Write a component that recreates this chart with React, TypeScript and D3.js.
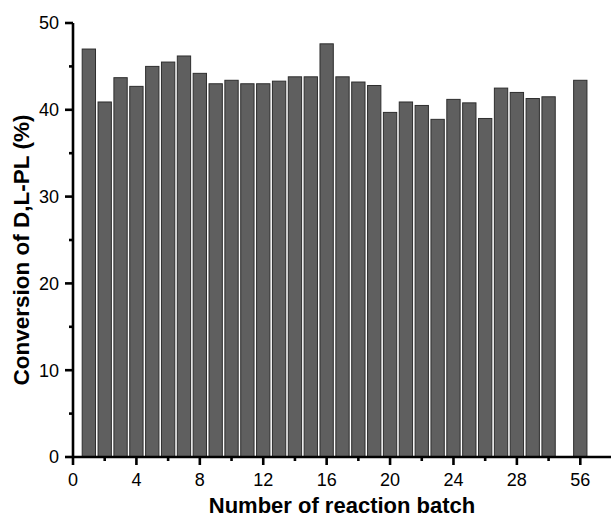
import * as d3 from 'd3';
import React from 'react';

// batch numbers (the last one sits after a break in the axis)
const batches = [1, 2, 3, 4, 5, 6, 7, 8, 9, 10, 11, 12, 13, 14, 15, 16, 17, 18, 19, 20, 21, 22, 23, 24, 25, 26, 27, 28, 29, 30, 56];
const conversion = [47.0, 40.9, 43.7, 42.7, 45.0, 45.5, 46.2, 44.2, 43.0, 43.4, 43.0, 43.0, 43.3, 43.8, 43.8, 47.6, 43.8, 43.2, 42.8, 39.7, 40.9, 40.5, 38.9, 41.2, 40.8, 39.0, 42.5, 42.0, 41.3, 41.5, 43.4];

const xMajorTicks = [0, 4, 8, 12, 16, 20, 24, 28, 32];
const xMajorLabels = ['0', '4', '8', '12', '16', '20', '24', '28', '56'];
const xMinorTicks = [2, 6, 10, 14, 18, 22, 26, 30];
const yMajorTicks = [0, 10, 20, 30, 40, 50];
const yMinorTicks = [5, 15, 25, 35, 45];

// slot on the axis for a batch number (56 is drawn at slot 32)
const slotOf = (b: number) => (b === 56 ? 32 : b);

export default function App() {
    const width = 611;
    const height = 519;

    const x = d3.scaleLinear().domain([0, 34]).range([73, 612]);
    const y = d3.scaleLinear().domain([0, 50]).range([457, 23]);

    const unit = x(1) - x(0);
    const barW = unit * 0.84;

    const font = '"Liberation Sans", Arial, sans-serif';

    return (
        <svg width={width} height={height} style={{ position: 'absolute', left: 0, top: 0 }}>
            <rect width={width} height={height} fill="#fff" />

            {/* bars */}
            {batches.map((b, i) => (
                <rect
                    key={b}
                    x={x(slotOf(b)) - barW / 2}
                    y={y(conversion[i])}
                    width={barW}
                    height={y(0) - y(conversion[i])}
                    fill="#5f5f5f"
                    stroke="#2e2e2e"
                    strokeWidth={1}
                />
            ))}

            {/* axes */}
            <g stroke="#000" strokeWidth={2.6} fill="none">
                <line x1={x(0)} x2={x(0)} y1={y(50)} y2={y(0)} />
                <line x1={x(0)} x2={x(34)} y1={y(0)} y2={y(0)} />
                {yMajorTicks.map(t => (
                    <line key={'ym' + t} x1={x(0) - 8} x2={x(0)} y1={y(t)} y2={y(t)} />
                ))}
                {yMinorTicks.map(t => (
                    <line key={'yn' + t} x1={x(0) - 4} x2={x(0)} y1={y(t)} y2={y(t)} />
                ))}
                {xMajorTicks.map(t => (
                    <line key={'xm' + t} x1={x(t)} x2={x(t)} y1={y(0)} y2={y(0) + 8} />
                ))}
                {xMinorTicks.map(t => (
                    <line key={'xn' + t} x1={x(t)} x2={x(t)} y1={y(0)} y2={y(0) + 4} />
                ))}
            </g>

            {/* tick labels */}
            <g fontFamily={font} fontSize={18} fill="#000">
                {yMajorTicks.map(t => (
                    <text key={'yl' + t} x={59} y={y(t)} dy="0.35em" textAnchor="end">{t}</text>
                ))}
                {xMajorTicks.map((t, i) => (
                    <text key={'xl' + t} x={x(t)} y={486} textAnchor="middle">{xMajorLabels[i]}</text>
                ))}
            </g>

            {/* axis titles */}
            <text x={342} y={513} textAnchor="middle" fontFamily={font} fontSize={22} fontWeight="bold">
                Number of reaction batch
            </text>
            <text
                transform="translate(29, 250) rotate(-90)"
                textAnchor="middle"
                fontFamily={font}
                fontSize={22.5}
                fontWeight="bold"
            >
                Conversion of D,L-PL (%)
            </text>
        </svg>
    );
}
